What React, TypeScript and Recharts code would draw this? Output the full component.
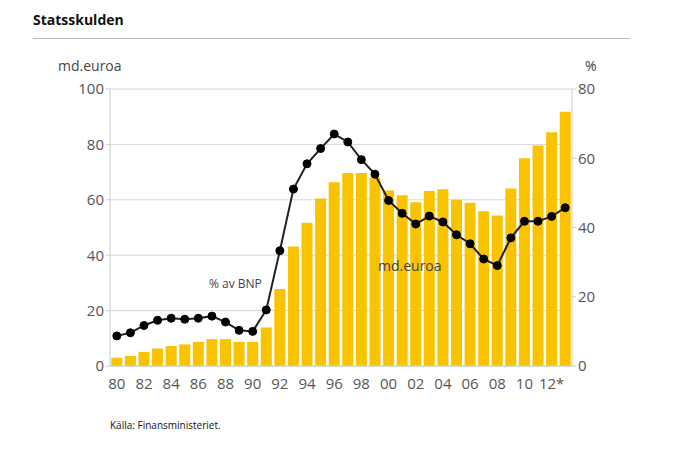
import React from 'react'
import { Bar, CartesianGrid, ComposedChart, Line, XAxis, YAxis } from 'recharts'

const years = [
  1980, 1981, 1982, 1983, 1984, 1985, 1986, 1987, 1988, 1989, 1990, 1991,
  1992, 1993, 1994, 1995, 1996, 1997, 1998, 1999, 2000, 2001, 2002, 2003,
  2004, 2005, 2006, 2007, 2008, 2009, 2010, 2011, 2012, 2013,
]
const tickLabels = [
  '80', '', '82', '', '84', '', '86', '', '88', '', '90', '',
  '92', '', '94', '', '96', '', '98', '', '00', '', '02', '',
  '04', '', '06', '', '08', '', '10', '', '12*', '',
]
// md. euroa
const debtEur = [
  3.0, 3.6, 5.1, 6.3, 7.2, 7.8, 8.7, 9.7, 9.7, 8.7, 8.7, 13.9,
  27.8, 43.1, 51.7, 60.5, 66.3, 69.7, 69.7, 68.0, 63.4, 61.6, 59.1, 63.2,
  63.8, 60.0, 58.9, 55.9, 54.3, 64.1, 75.0, 79.6, 84.4, 91.8,
]
// % av BNP
const debtPct = [
  8.7, 9.6, 11.7, 13.2, 13.8, 13.5, 13.8, 14.4, 12.7, 10.3, 10.0, 16.2,
  33.3, 51.1, 58.4, 62.8, 67.0, 64.7, 59.6, 55.4, 47.8, 44.1, 41.0, 43.3,
  41.6, 37.9, 35.3, 30.9, 29.0, 37.0, 41.8, 41.8, 43.2, 45.7,
]
const leftTicks = [0, 20, 40, 60, 80, 100]
const rightTicks = [0, 20, 40, 60, 80]

const data = years.map((year, i) => ({ year, eur: debtEur[i], pct: debtPct[i] }))

const font = '"Open Sans", sans-serif'
const tickStyle = { fontSize: 15, fill: '#555', fontFamily: font }

export default function App() {
  return (
    <div style={{ position: 'absolute', left: 0, top: 0, width: 684, height: 452, background: '#fff', fontFamily: font }}>
      <div style={{ position: 'absolute', left: 33, top: 10, fontSize: 14, fontWeight: 700, color: '#111' }}>Statsskulden</div>
      <div style={{ position: 'absolute', left: 33, top: 38, width: 597, height: 1, background: '#bbb' }} />
      <div style={{ position: 'absolute', left: 58, top: 56, fontSize: 14, color: '#444' }}>md.euroa</div>
      <div style={{ position: 'absolute', left: 585, top: 56, fontSize: 14, color: '#444' }}>%</div>
      <div style={{ position: 'absolute', left: 110, top: 418, fontSize: 10, color: '#111' }}>Källa: Finansministeriet.</div>
      <ComposedChart
        width={684}
        height={452}
        data={data}
        margin={{ top: 89, right: 62, bottom: 56, left: 60 }}
        barCategoryGap={1.3}
      >
        <CartesianGrid vertical={false} stroke="#d6d6d6" yAxisId="left" />
        <XAxis
          dataKey="year"
          interval={0}
          tickFormatter={(_v: number, i: number) => tickLabels[i]}
          tick={tickStyle}
          axisLine={{ stroke: '#ccc' }}
          tickLine={false}
          height={30}
          tickMargin={6}
        />
        <YAxis
          yAxisId="left"
          domain={[0, 100]}
          ticks={leftTicks}
          tick={tickStyle}
          width={50}
          axisLine={{ stroke: '#ccc' }}
          tickLine={{ stroke: '#ccc' }}
          tickSize={4}
        />
        <YAxis
          yAxisId="right"
          orientation="right"
          domain={[0, 80]}
          ticks={rightTicks}
          tick={tickStyle}
          width={50}
          axisLine={{ stroke: '#ccc' }}
          tickLine={{ stroke: '#ccc' }}
          tickSize={4}
        />
        <Bar yAxisId="left" dataKey="eur" fill="#FAC300" isAnimationActive={false} />
        <Line
          yAxisId="right"
          dataKey="pct"
          stroke="#222"
          strokeWidth={2}
          dot={{ r: 4, fill: '#000', stroke: '#000', strokeWidth: 1 }}
          isAnimationActive={false}
        />
      </ComposedChart>
      <div style={{ position: 'absolute', left: 209, top: 275, fontSize: 12, color: '#444' }}>% av BNP</div>
      <div style={{ position: 'absolute', left: 378, top: 256, fontSize: 14, color: '#444' }}>md.euroa</div>
    </div>
  )
}
